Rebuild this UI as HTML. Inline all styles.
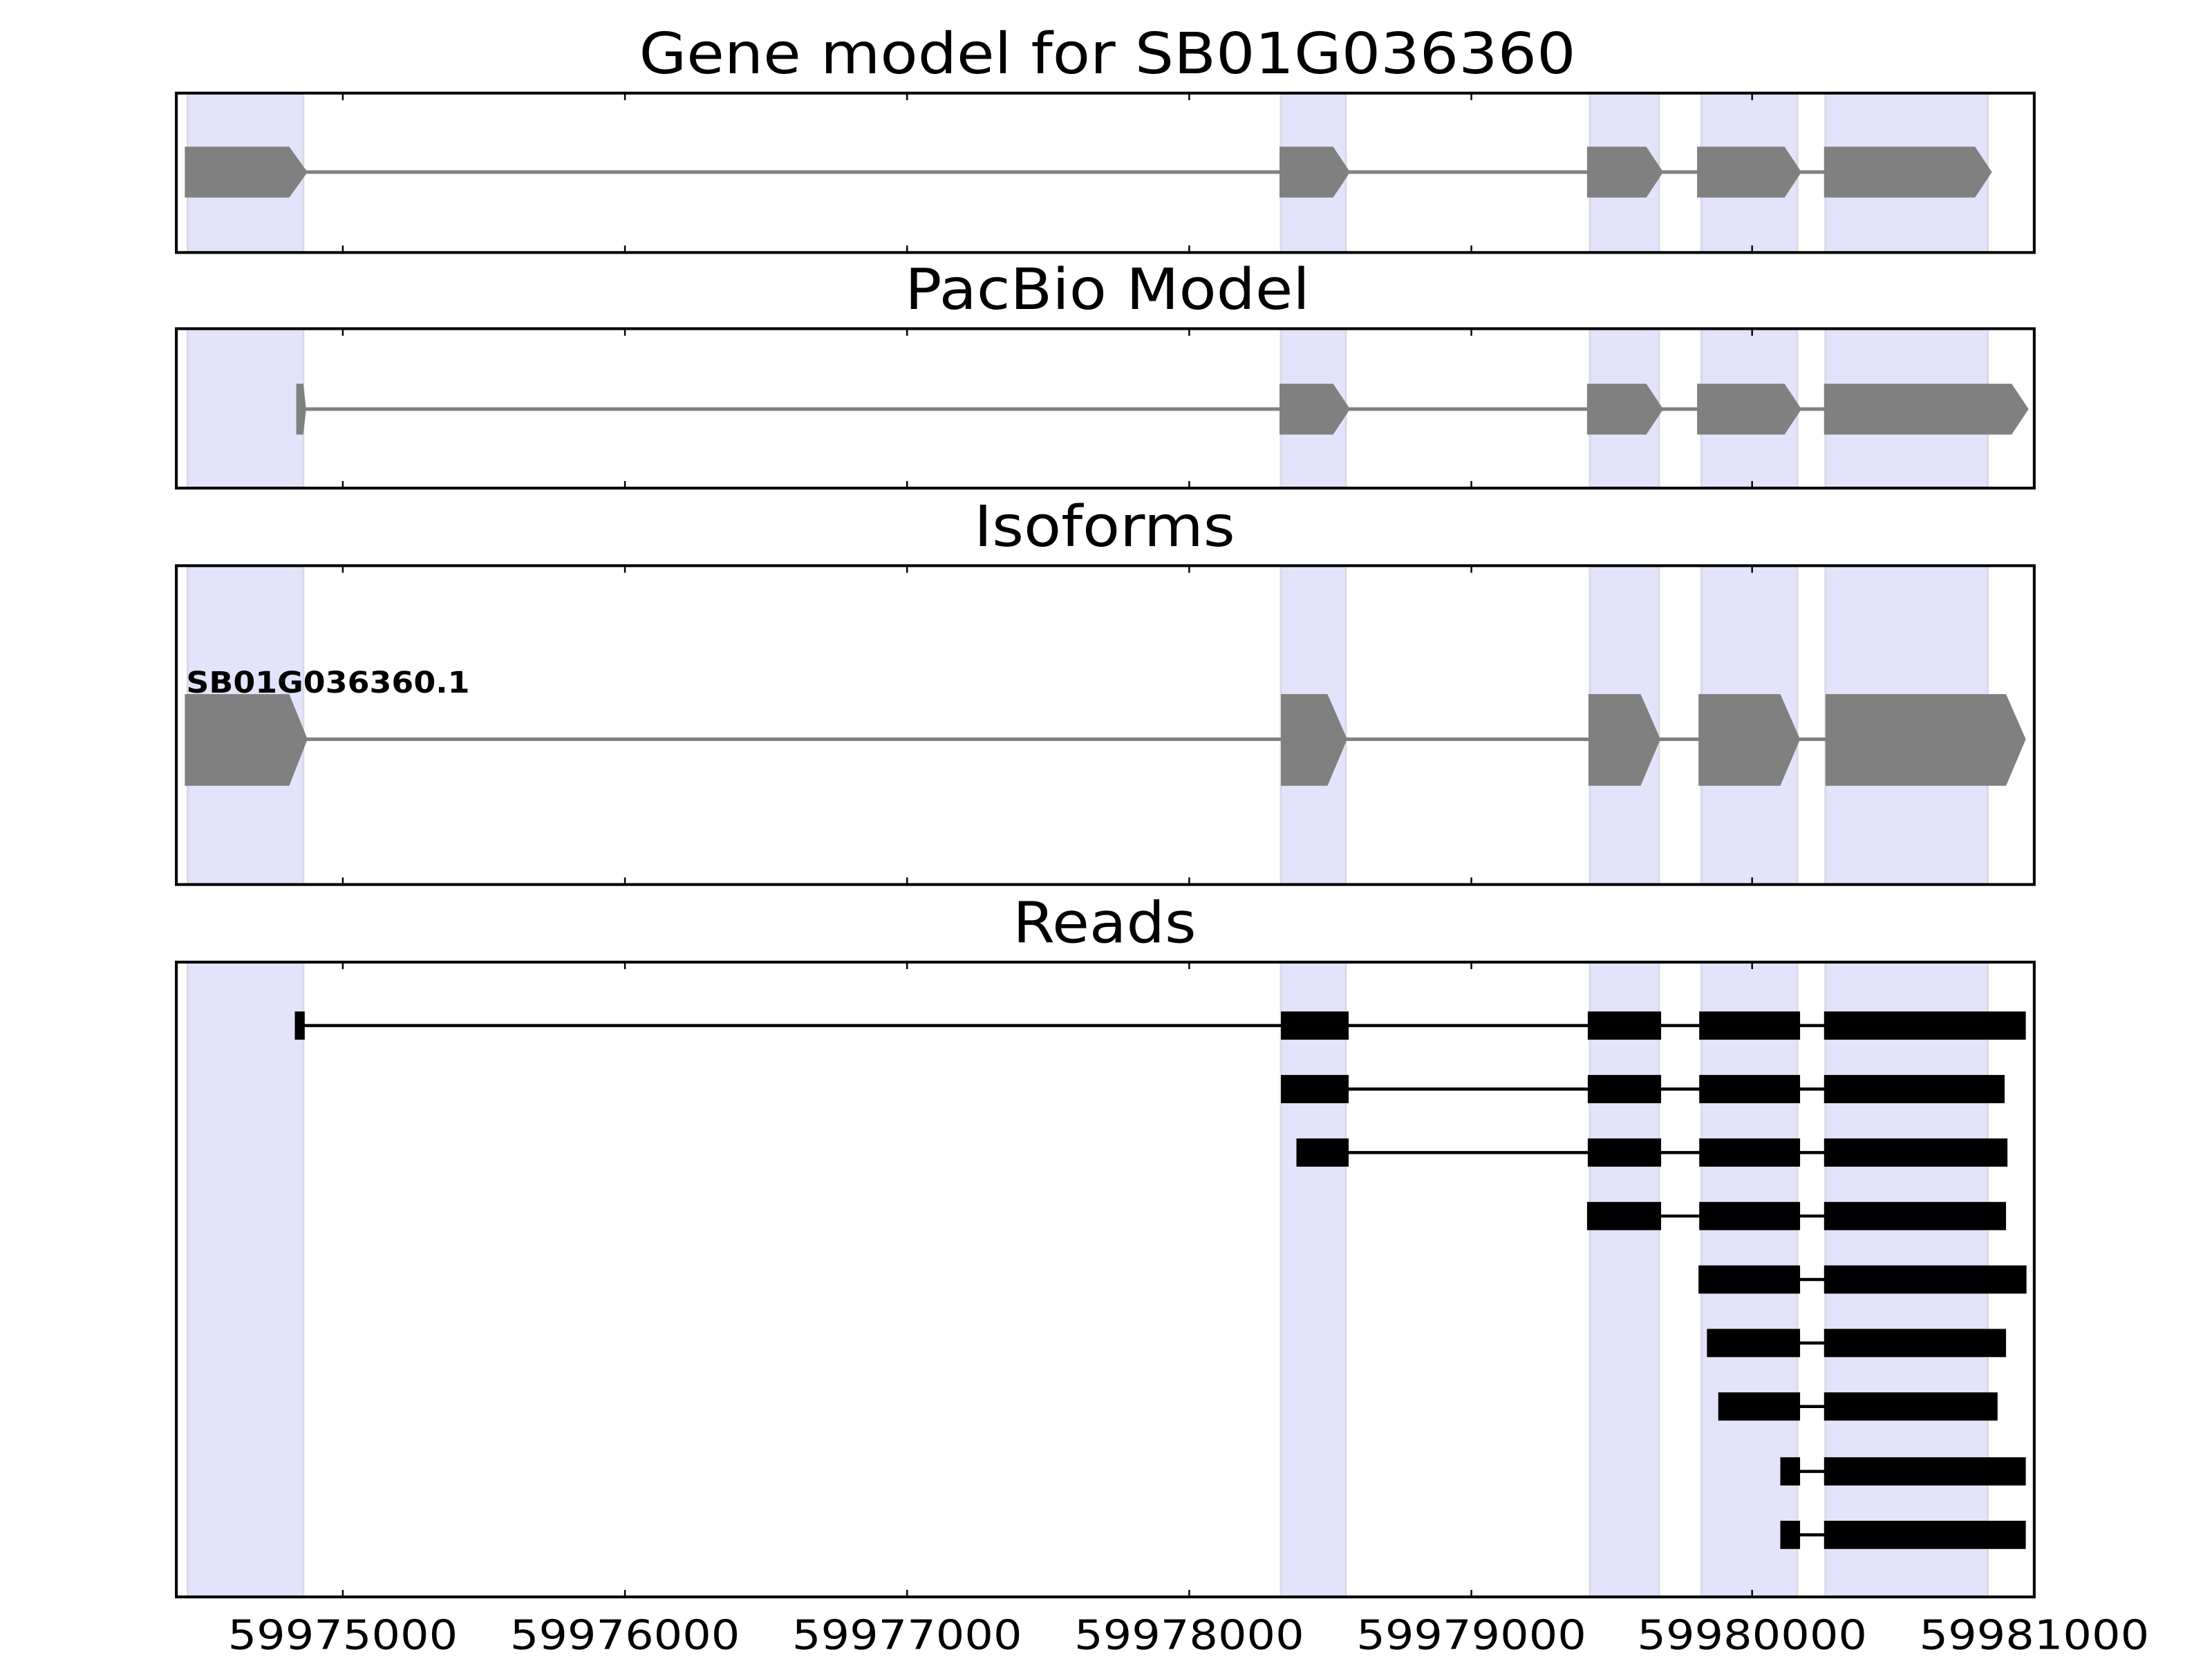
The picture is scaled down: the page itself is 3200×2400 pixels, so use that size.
<!DOCTYPE html>
<html><head><meta charset="utf-8"><style>html,body{margin:0;padding:0;background:#fff}svg{display:block}</style></head>
<body>
<svg width="3200" height="2400" viewBox="0 0 1568 1176" xmlns="http://www.w3.org/2000/svg" font-family="DejaVu Sans, Liberation Sans, sans-serif">
<rect width="1568" height="1176" fill="#fff"/>
<defs>
<g id="bands">
<rect x="133" width="82" height="1200" fill="#e3e3fc" stroke="#dadae6" stroke-width="1.5"/>
<rect x="908" width="46" height="1200" fill="#e3e3fc" stroke="#dadae6" stroke-width="1.5"/>
<rect x="1127" width="49" height="1200" fill="#e3e3fc" stroke="#dadae6" stroke-width="1.5"/>
<rect x="1206" width="68" height="1200" fill="#e3e3fc" stroke="#dadae6" stroke-width="1.5"/>
<rect x="1294" width="115" height="1200" fill="#e3e3fc" stroke="#dadae6" stroke-width="1.5"/>
</g>
<clipPath id="c1"><rect x="125" y="66" width="1317" height="113"/></clipPath>
<clipPath id="c2"><rect x="125" y="233" width="1317" height="113"/></clipPath>
<clipPath id="c3"><rect x="125" y="401" width="1317" height="226"/></clipPath>
<clipPath id="c4"><rect x="125" y="682" width="1317" height="450"/></clipPath>
</defs>

<text x="785" y="52" font-size="40" text-anchor="middle" textLength="664" lengthAdjust="spacingAndGlyphs">Gene model for SB01G036360</text>
<text x="785" y="219" font-size="40" text-anchor="middle" textLength="287" lengthAdjust="spacingAndGlyphs">PacBio Model</text>
<text x="783" y="387" font-size="40" text-anchor="middle" textLength="185" lengthAdjust="spacingAndGlyphs">Isoforms</text>
<text x="783" y="668" font-size="40" text-anchor="middle" textLength="130" lengthAdjust="spacingAndGlyphs">Reads</text>

<g clip-path="url(#c1)"><use href="#bands"/></g>
<line x1="210" y1="122" x2="1300" y2="122" stroke="#808080" stroke-width="2.5"/>
<g fill="#808080">
<polygon points="131,104 205,104 218,122 205,140 131,140"/>
<polygon points="907,104 945,104 957,122 945,140 907,140"/>
<polygon points="1125,104 1167,104 1179,122 1167,140 1125,140"/>
<polygon points="1203,104 1265,104 1277,122 1265,140 1203,140"/>
<polygon points="1293,104 1400,104 1412,122 1400,140 1293,140"/>
</g>

<g clip-path="url(#c2)"><use href="#bands"/></g>
<line x1="214" y1="290" x2="1300" y2="290" stroke="#808080" stroke-width="2.5"/>
<g fill="#808080">
<polygon points="210,272 215,272 217,290 215,308 210,308"/>
<polygon points="907,272 945,272 957,290 945,308 907,308"/>
<polygon points="1125,272 1167,272 1179,290 1167,308 1125,308"/>
<polygon points="1203,272 1265,272 1277,290 1265,308 1203,308"/>
<polygon points="1293,272 1426,272 1438,290 1426,308 1293,308"/>
</g>

<g clip-path="url(#c3)"><use href="#bands"/></g>
<line x1="210" y1="524" x2="1300" y2="524" stroke="#808080" stroke-width="2.5"/>
<g fill="#808080">
<polygon points="131,492 205,492 218,524 205,557 131,557"/>
<polygon points="908,492 941,492 955,524 941,557 908,557"/>
<polygon points="1126,492 1163,492 1177,524 1163,557 1126,557"/>
<polygon points="1204,492 1262,492 1276,524 1262,557 1204,557"/>
<polygon points="1294,492 1422,492 1436,524 1422,557 1294,557"/>
</g>
<text x="132" y="491" font-size="21" font-weight="bold" textLength="201" lengthAdjust="spacingAndGlyphs">SB01G036360.1</text>

<g clip-path="url(#c4)"><use href="#bands"/></g>
<g stroke="#000" stroke-width="2.2">
<line x1="212" y1="727" x2="1300" y2="727"/>
<line x1="930" y1="772" x2="1300" y2="772"/>
<line x1="930" y1="817" x2="1300" y2="817"/>
<line x1="1150" y1="862" x2="1300" y2="862"/>
<line x1="1240" y1="907" x2="1300" y2="907"/>
<line x1="1240" y1="952" x2="1300" y2="952"/>
<line x1="1240" y1="997" x2="1300" y2="997"/>
<line x1="1265" y1="1043" x2="1300" y2="1043"/>
<line x1="1265" y1="1088" x2="1300" y2="1088"/>
</g>
<g fill="#000">
<rect x="209" y="717" width="7" height="20"/>
<rect x="908" y="717" width="48" height="20"/><rect x="1125.5" y="717" width="52" height="20"/><rect x="1204.5" y="717" width="71.5" height="20"/><rect x="1293" y="717" width="143" height="20"/>
<rect x="908" y="762" width="48" height="20"/><rect x="1125.5" y="762" width="52" height="20"/><rect x="1204.5" y="762" width="71.5" height="20"/><rect x="1293" y="762" width="128" height="20"/>
<rect x="919" y="807" width="37" height="20"/><rect x="1125.5" y="807" width="52" height="20"/><rect x="1204.5" y="807" width="71.5" height="20"/><rect x="1293" y="807" width="130" height="20"/>
<rect x="1125" y="852" width="52.5" height="20"/><rect x="1204.5" y="852" width="71.5" height="20"/><rect x="1293" y="852" width="129" height="20"/>
<rect x="1204" y="897" width="72" height="20"/><rect x="1293" y="897" width="143.5" height="20"/>
<rect x="1210" y="942" width="66" height="20"/><rect x="1293" y="942" width="129" height="20"/>
<rect x="1218" y="987" width="58" height="20"/><rect x="1293" y="987" width="123" height="20"/>
<rect x="1262" y="1033" width="14" height="20"/><rect x="1293" y="1033" width="143" height="20"/>
<rect x="1262" y="1078" width="14" height="20"/><rect x="1293" y="1078" width="143" height="20"/>
</g>

<g fill="none" stroke="#000" stroke-width="2">
<rect x="125" y="66" width="1317" height="113"/>
<rect x="125" y="233" width="1317" height="113"/>
<rect x="125" y="401" width="1317" height="226"/>
<rect x="125" y="682" width="1317" height="450"/>
</g>
<g stroke="#000" stroke-width="1.2">
<path d="M243 66v5M443 66v5M643 66v5M843 66v5M1043 66v5M1242 66v5M1442 66v5
M243 179v-5M443 179v-5M643 179v-5M843 179v-5M1043 179v-5M1242 179v-5M1442 179v-5
M243 233v5M443 233v5M643 233v5M843 233v5M1043 233v5M1242 233v5M1442 233v5
M243 346v-5M443 346v-5M643 346v-5M843 346v-5M1043 346v-5M1242 346v-5M1442 346v-5
M243 401v5M443 401v5M643 401v5M843 401v5M1043 401v5M1242 401v5M1442 401v5
M243 627v-5M443 627v-5M643 627v-5M843 627v-5M1043 627v-5M1242 627v-5M1442 627v-5
M243 682v5M443 682v5M643 682v5M843 682v5M1043 682v5M1242 682v5M1442 682v5
M243 1132v-5M443 1132v-5M643 1132v-5M843 1132v-5M1043 1132v-5M1242 1132v-5M1442 1132v-5"/>
</g>
<g font-size="29" text-anchor="middle">
<text x="243" y="1169" textLength="163" lengthAdjust="spacingAndGlyphs">59975000</text>
<text x="443" y="1169" textLength="163" lengthAdjust="spacingAndGlyphs">59976000</text>
<text x="643" y="1169" textLength="163" lengthAdjust="spacingAndGlyphs">59977000</text>
<text x="843" y="1169" textLength="163" lengthAdjust="spacingAndGlyphs">59978000</text>
<text x="1043" y="1169" textLength="163" lengthAdjust="spacingAndGlyphs">59979000</text>
<text x="1242" y="1169" textLength="163" lengthAdjust="spacingAndGlyphs">59980000</text>
<text x="1442" y="1169" textLength="163" lengthAdjust="spacingAndGlyphs">59981000</text>
</g>
</svg>
</body></html>
